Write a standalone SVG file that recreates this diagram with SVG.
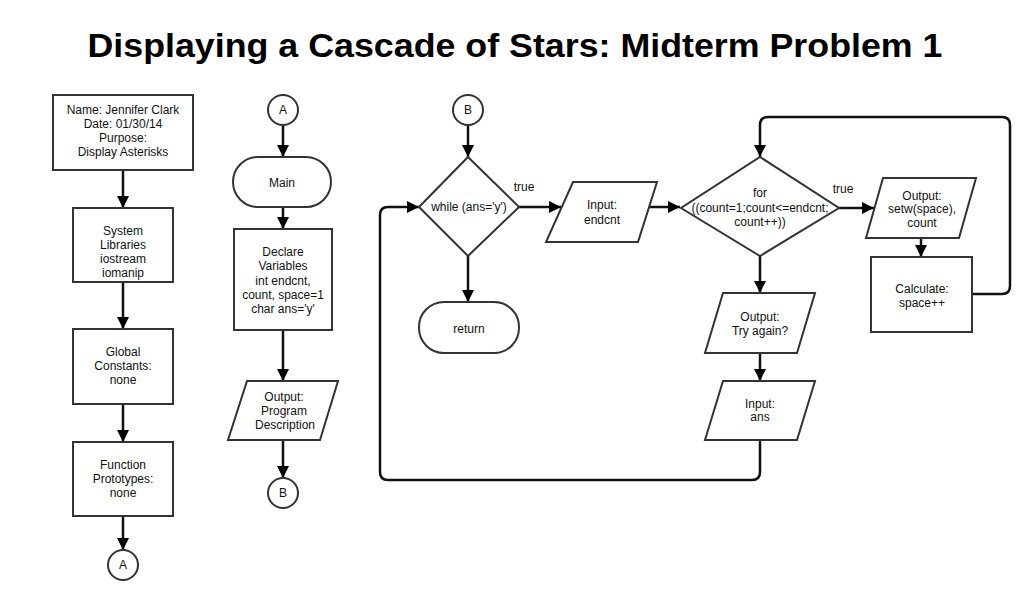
<svg xmlns="http://www.w3.org/2000/svg" width="1035" height="600" viewBox="0 0 1035 600">
<defs>
<marker id="ah" markerUnits="userSpaceOnUse" markerWidth="12" markerHeight="12" viewBox="0 0 12 12" refX="12" refY="6" orient="auto">
<path d="M0,0 L12,6 L0,12 z" fill="#000"/>
</marker>
<style>
.s{fill:#fff;stroke:#333;stroke-width:2}
.c{fill:none;stroke:#111;stroke-width:2.5;marker-end:url(#ah)}
.cn{fill:none;stroke:#111;stroke-width:2.5}
text{font-family:"Liberation Sans",Arial,sans-serif;font-size:12px;fill:#111;text-anchor:middle}
.t{font-size:33px;font-weight:bold;fill:#000}
</style>
</defs>
<rect width="1035" height="600" fill="#fff"/>
<text class="t" x="515" y="57" textLength="855" lengthAdjust="spacingAndGlyphs">Displaying a Cascade of Stars: Midterm Problem 1</text>

<g id="connectors">
<path class="c" d="M123,170 V208"/>
<path class="c" d="M123,282 V329"/>
<path class="c" d="M123,404 V442"/>
<path class="c" d="M123,516 V550"/>
<path class="c" d="M283,125 V157"/>
<path class="c" d="M283,207 V229"/>
<path class="c" d="M283,330 V381"/>
<path class="c" d="M283,440 V478"/>
<path class="c" d="M468,125 V157"/>
<path class="c" d="M468,256 V302"/>
<path class="c" d="M519,207 H561"/>
<path class="c" d="M647,207 H680"/>
<path class="c" d="M839,208 H874"/>
<path class="c" d="M921,238 V257"/>
<path class="c" d="M760,256 V293"/>
<path class="c" d="M760,353 V381"/>
<path class="c" d="M972,294 H1002 Q1010,294 1010,286 V125 Q1010,117 1002,117 H768 Q760,117 760,125 V157"/>
<path class="c" d="M760,440 V472 Q760,480 752,480 H388 Q380,480 380,472 V215 Q380,207 388,207 H419"/>
<text x="524" y="191">true</text>
<text x="843" y="193">true</text>
</g>

<g id="header">
<rect class="s" x="53" y="95" width="140" height="75"/>
<text x="123" y="114">Name: Jennifer Clark</text>
<text x="123" y="128">Date: 01/30/14</text>
<text x="123" y="142">Purpose:</text>
<text x="123" y="156">Display Asterisks</text>
</g>
<g id="libraries">
<rect class="s" x="73" y="208" width="100" height="74"/>
<text x="123" y="235">System</text>
<text x="123" y="249">Libraries</text>
<text x="123" y="263">iostream</text>
<text x="123" y="277">iomanip</text>
</g>
<g id="constants">
<rect class="s" x="73" y="329" width="100" height="75"/>
<text x="123" y="356">Global</text>
<text x="123" y="370">Constants:</text>
<text x="123" y="384">none</text>
</g>
<g id="prototypes">
<rect class="s" x="73" y="442" width="100" height="74"/>
<text x="123" y="469">Function</text>
<text x="123" y="483">Prototypes:</text>
<text x="123" y="497">none</text>
</g>
<g id="connA1">
<circle class="s" cx="123" cy="565" r="15"/>
<text x="123" y="569">A</text>
</g>

<g id="connA2">
<circle class="s" cx="283" cy="110" r="15"/>
<text x="283" y="114">A</text>
</g>
<g id="main">
<rect class="s" x="233" y="157" width="98" height="50" rx="25"/>
<text x="282" y="187">Main</text>
</g>
<g id="declare">
<rect class="s" x="234" y="229" width="98" height="101"/>
<text x="283" y="256">Declare</text>
<text x="283" y="270">Variables</text>
<text x="283" y="285">int endcnt,</text>
<text x="283" y="299">count, space=1</text>
<text x="283" y="313">char ans='y'</text>
</g>
<g id="outDesc">
<polygon class="s" points="247,381 338,381 320,440 228,440"/>
<text x="284" y="401">Output:</text>
<text x="284" y="415">Program</text>
<text x="285" y="429">Description</text>
</g>
<g id="connB1">
<circle class="s" cx="283" cy="493" r="15"/>
<text x="283" y="497">B</text>
</g>

<g id="connB2">
<circle class="s" cx="468" cy="110" r="15"/>
<text x="468" y="114">B</text>
</g>
<g id="while">
<polygon class="s" points="468,157 519,207 468,256 419,207"/>
<text x="469" y="211">while (ans='y')</text>
</g>
<g id="return">
<rect class="s" x="419" y="302" width="100" height="51" rx="25"/>
<text x="469" y="333">return</text>
</g>
<g id="inEndcnt">
<polygon class="s" points="573,182 657,182 638,242 546,242"/>
<text x="602" y="209">Input:</text>
<text x="602" y="224">endcnt</text>
</g>
<g id="for">
<polygon class="s" points="760,157 839,208 760,256 681,208"/>
<text x="760" y="197">for</text>
<text x="760" y="212">((count=1;count&lt;=endcnt;</text>
<text x="760" y="226">count++))</text>
</g>
<g id="outSetw">
<polygon class="s" points="883,178 976,178 959,238 866,238"/>
<text x="922" y="200">Output:</text>
<text x="922" y="213">setw(space),</text>
<text x="922" y="227">count</text>
</g>
<g id="calc">
<rect class="s" x="871" y="257" width="101" height="75"/>
<text x="922" y="293">Calculate:</text>
<text x="922" y="307">space++</text>
</g>
<g id="outTry">
<polygon class="s" points="723,293 815,293 797,353 705,353"/>
<text x="760" y="321">Output:</text>
<text x="760" y="335">Try again?</text>
</g>
<g id="inAns">
<polygon class="s" points="723,381 815,381 797,440 705,440"/>
<text x="760" y="408">Input:</text>
<text x="760" y="421">ans</text>
</g>
</svg>
